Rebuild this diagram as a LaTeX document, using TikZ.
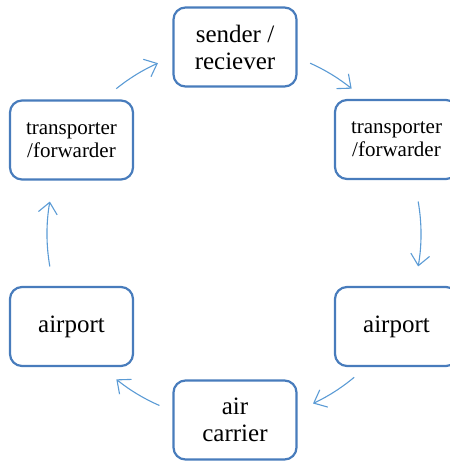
\documentclass[tikz,border=0pt]{standalone}
\usepackage{fontspec}
\setmainfont{Liberation Serif}
\usetikzlibrary{arrows.meta}
\definecolor{boxblue}{RGB}{72,124,188}
\definecolor{arrowblue}{RGB}{91,155,213}
\tikzset{
  stage/.style={draw=boxblue, line width=2.2pt, rounded corners=12pt, fill=white,
    minimum width=123pt, minimum height=79pt, align=center, inner sep=2pt,
    font=\fontsize{25}{27}\selectfont},
  smalltext/.style={font=\fontsize{21}{23}\selectfont},
  flow/.style={draw=arrowblue, line width=1.1pt,
    -{Straight Barb[length=11pt,width=19pt,line width=1.1pt]}}
}
\begin{document}
\begin{tikzpicture}[x=1pt, y=-1pt]
\useasboundingbox (0,0) rectangle (450,461);

% the six stages of the cycle
\node[stage] (sender) at (235,47) {sender /\\reciever};
\node[stage, smalltext] (tright) at (396.5,139.5) {transporter\\/forwarder};
\node[stage] (aright) at (396.5,326.5) {airport};
\node[stage] (carrier) at (235,420) {air\\carrier};
\node[stage] (aleft) at (71.5,326.5) {airport};
\node[stage, smalltext] (tleft) at (71.5,140) {transporter\\/forwarder};

% arrows run clockwise along a circle round the centre
\coordinate (c) at (234,234);
\foreach \s/\e [count=\i] in {66/51, 10/-10, -50/-65, 246.5/231, 190/170, 129/114}{
  \coordinate (s\i) at ([shift={(\s:187pt)}]c);
  \draw[flow] (s\i) arc[start angle=\s, end angle=\e, radius=187pt];
}
\end{tikzpicture}
\end{document}
